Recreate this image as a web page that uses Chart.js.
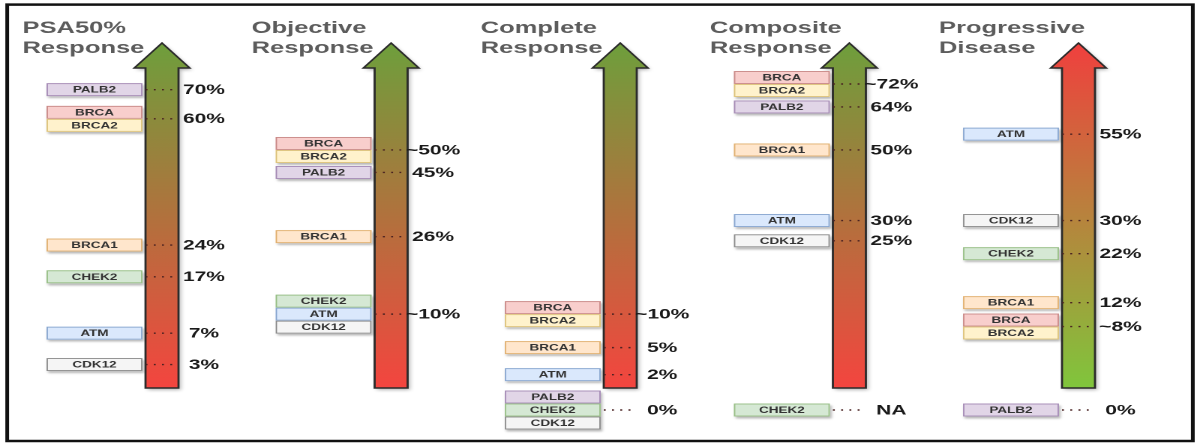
<!DOCTYPE html>
<html>
<head>
<meta charset="utf-8">
<script src="https://cdn.jsdelivr.net/npm/chart.js@4.4.1/dist/chart.umd.min.js"></script>
<style>
  html, body { margin: 0; padding: 0; background: #fff; overflow: hidden; }
  /* the source picture is stretched sideways, so draw narrow and widen it */
  #wrap { width: 800px; height: 447px; transform: scaleX(1.5); transform-origin: 0 0; }
</style>
</head>
<body>
<div id="wrap"><canvas id="genesChart" width="800" height="447"></canvas></div>
<script>
const panelTitles = [['PSA50%', 'Response'], ['Objective', 'Response'], ['Complete', 'Response'], ['Composite', 'Response'], ['Progressive', 'Disease']];

// genes that share one value are joined with '/'
const psaGenes = ['PALB2', 'BRCA/BRCA2', 'BRCA1', 'CHEK2', 'ATM', 'CDK12'];
const psaValues = [70, 60, 24, 17, 7, 3];
const psaLabels = ['70%', '60%', '24%', '17%', '7%', '3%'];

const objectiveGenes = ['BRCA/BRCA2', 'PALB2', 'BRCA1', 'CHEK2/ATM/CDK12'];
const objectiveValues = [50, 45, 26, 10];
const objectiveLabels = ['~50%', '45%', '26%', '~10%'];

const completeGenes = ['BRCA/BRCA2', 'BRCA1', 'ATM', 'PALB2/CHEK2/CDK12'];
const completeValues = [10, 5, 2, 0];
const completeLabels = ['~10%', '5%', '2%', '0%'];

const compositeGenes = ['BRCA/BRCA2', 'PALB2', 'BRCA1', 'ATM', 'CDK12', 'CHEK2'];
const compositeValues = [72, 64, 50, 30, 25, null];
const compositeLabels = ['~72%', '64%', '50%', '30%', '25%', 'NA'];

const progressiveGenes = ['ATM', 'CDK12', 'CHEK2', 'BRCA1', 'BRCA/BRCA2', 'PALB2'];
const progressiveValues = [55, 30, 22, 12, 8, 0];
const progressiveLabels = ['55%', '30%', '22%', '12%', '~8%', '0%'];

const panels = [
    [psaGenes, psaValues, psaLabels],
    [objectiveGenes, objectiveValues, objectiveLabels],
    [completeGenes, completeValues, completeLabels],
    [compositeGenes, compositeValues, compositeLabels],
    [progressiveGenes, progressiveValues, progressiveLabels],
];

// fill / border per gene (draw.io style palette)
const geneColors = {
    PALB2: ['#e1d5e7', '#a58bb5'],
    BRCA: ['#f8cecc', '#c98a88'],
    BRCA2: ['#fff2cc', '#dcc27a'],
    BRCA1: ['#ffe6cc', '#e0b070'],
    CHEK2: ['#d5e8d4', '#98bf86'],
    ATM: ['#dae8fc', '#88a6cf'],
    CDK12: ['#f5f5f5', '#8a8a8a'],
};
const greenTop = ['#6e9f3c', '#f4453f'];
const redTop = ['#f0403e', '#80c63c'];
const arrowColors = [greenTop, greenTop, greenTop, greenTop, redTop];

// power scale: spreads the small percentages out like the original layout
const EXPONENT = 0.62;
class PowScale extends Chart.LinearScale {
    getPixelForValue(value) {
        const v = Math.max(0, value ?? 0);
        return this.getPixelForDecimal(Math.pow((v - this.min) / (this.max - this.min), EXPONENT));
    }
    getValueForPixel(pixel) {
        return this.min + Math.pow(this.getDecimalForPixel(pixel), 1 / EXPONENT) * (this.max - this.min);
    }
}
PowScale.id = 'pow';
PowScale.defaults = Chart.LinearScale.defaults;
Chart.register(PowScale);

const BOX_H = 13;

const infographic = {
    id: 'infographic',
    afterDraw(chart) {
        const ctx = chart.ctx;
        const xs = chart.scales.x;
        const ys = chart.scales.y;
        const area = chart.chartArea;
        const dpr = chart.currentDevicePixelRatio;

        ctx.save();
        // outer frame
        ctx.strokeStyle = '#111';
        ctx.lineWidth = 2.5;
        ctx.strokeRect(4.8, 4.6, 790.4, 436.4);

        chart.data.datasets.forEach((ds, p) => {
            const cx = xs.getPixelForValue(p);
            const [genes, values, labels] = panels[p];

            // title
            ctx.fillStyle = '#5c5c5c';
            ctx.font = 'bold 17px "Liberation Sans", Arial, sans-serif';
            ctx.textAlign = 'left';
            ctx.textBaseline = 'alphabetic';
            ctx.fillText(panelTitles[p][0], cx - 93, 33);
            ctx.fillText(panelTitles[p][1], cx - 93, 53);

            // arrow
            const tipY = area.top - 19;
            const baseY = area.top + 6;
            const bottomY = area.bottom - 22;
            const grad = ctx.createLinearGradient(0, tipY, 0, bottomY);
            grad.addColorStop(0, arrowColors[p][0]);
            grad.addColorStop(1, arrowColors[p][1]);
            ctx.beginPath();
            ctx.moveTo(cx, tipY);
            ctx.lineTo(cx + 18.5, baseY);
            ctx.lineTo(cx + 11, baseY);
            ctx.lineTo(cx + 11, bottomY);
            ctx.lineTo(cx - 11, bottomY);
            ctx.lineTo(cx - 11, baseY);
            ctx.lineTo(cx - 18.5, baseY);
            ctx.closePath();
            ctx.shadowColor = 'rgba(0,0,0,0.3)';
            ctx.shadowBlur = 3 * dpr;
            ctx.shadowOffsetX = 1.5 * dpr;
            ctx.shadowOffsetY = 2 * dpr;
            ctx.fillStyle = grad;
            ctx.fill();
            ctx.shadowColor = 'transparent';
            ctx.strokeStyle = '#2b2b2b';
            ctx.lineWidth = 1.4;
            ctx.stroke();

            // gene boxes, pushed down a little when they would overlap
            const meta = chart.getDatasetMeta(p);
            let prevBottom = -Infinity;
            values.forEach((v, j) => {
                const names = genes[j].split('/');
                const h = names.length * BOX_H;
                let y = v === null ? ys.getPixelForValue(0) : meta.data[j].y;
                let top = y - h / 2;
                if (top < prevBottom + 3) {
                    y += prevBottom + 3 - top;
                    top = y - h / 2;
                }
                prevBottom = top + h;

                const bx = cx - 77;
                const bw = 64;
                ctx.shadowColor = 'rgba(0,0,0,0.28)';
                ctx.shadowBlur = 2 * dpr;
                ctx.shadowOffsetX = 1 * dpr;
                ctx.shadowOffsetY = 2 * dpr;
                ctx.fillStyle = '#fff';
                ctx.fillRect(bx, top, bw, h);
                ctx.shadowColor = 'transparent';
                names.forEach((g, k) => {
                    const by = top + k * BOX_H;
                    ctx.fillStyle = geneColors[g][0];
                    ctx.fillRect(bx, by, bw, BOX_H);
                    ctx.strokeStyle = geneColors[g][1];
                    ctx.lineWidth = 0.9;
                    ctx.strokeRect(bx + 0.5, by + 0.5, bw - 1, BOX_H - 1);
                    ctx.fillStyle = '#333';
                    ctx.font = 'bold 9px "Liberation Sans", Arial, sans-serif';
                    ctx.textAlign = 'center';
                    ctx.textBaseline = 'middle';
                    ctx.fillText(g, bx + bw / 2, by + BOX_H / 2 + 0.5);
                });

                // dotted leader
                ctx.strokeStyle = '#4a2222';
                ctx.lineWidth = 1.4;
                ctx.setLineDash([1.3, 4.2]);
                ctx.beginPath();
                ctx.moveTo(cx - 11, y);
                ctx.lineTo(cx + 8, y);
                ctx.stroke();
                ctx.setLineDash([]);

                // value
                ctx.fillStyle = '#1a1a1a';
                ctx.font = 'bold 14px "Liberation Sans", Arial, sans-serif';
                ctx.textAlign = 'center';
                ctx.textBaseline = 'middle';
                ctx.fillText(labels[j], cx + 28, y + 0.5);
            });
        });
        ctx.restore();
    }
};

new Chart(document.getElementById('genesChart'), {
    type: 'scatter',
    data: {
        datasets: panels.map((pn, p) => ({
            label: panelTitles[p].join(' '),
            data: pn[1].map(v => ({ x: p, y: v })),
            pointRadius: 0,
            pointHoverRadius: 0,
        }))
    },
    options: {
        responsive: false,
        animation: false,
        devicePixelRatio: 2,
        layout: { padding: { left: 108, right: 81, top: 62, bottom: 37 } },
        scales: {
            x: { type: 'linear', min: 0, max: 4, display: false },
            y: { type: 'pow', min: 0, max: 80, display: false },
        },
        plugins: {
            legend: { display: false },
            tooltip: { enabled: false },
        },
    },
    plugins: [infographic],
});
</script>
</body>
</html>
